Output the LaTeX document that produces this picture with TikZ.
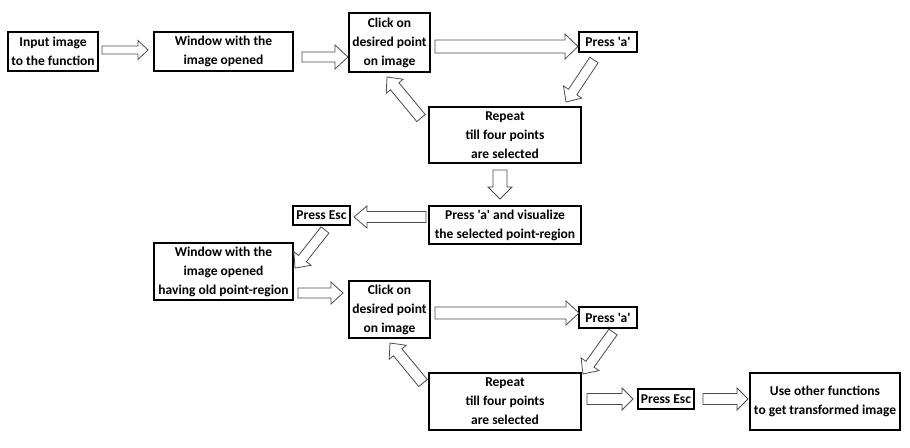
\documentclass[tikz,border=0pt]{standalone}
\usepackage{fontspec}
\newfontfamily\calfont{Carlito}
\usetikzlibrary{calc}
\tikzset{
  box/.style={draw, line width=1.8pt, inner sep=0pt, align=center,
    font=\calfont\fontsize{13.5}{19}\selectfont\bfseries},
  blockarr/.style={draw=black!70, fill=white, line width=0.8pt, line join=miter},
}
% block arrow: from, to, shaft half width, head half width, head length
\newcommand{\barrow}[5]{%
  \draw[blockarr] let \p1=(#1), \p2=(#2), \n1={atan2(\y2-\y1,\x2-\x1)},
    \n2={veclen(\x2-\x1,\y2-\y1)} in
    [shift={(\p1)}, rotate=\n1]
    (0pt,-#3pt) -- (\n2-#5pt,-#3pt) -- (\n2-#5pt,-#4pt) -- (\n2,0pt)
    -- (\n2-#5pt,#4pt) -- (\n2-#5pt,#3pt) -- (0pt,#3pt) -- cycle;}
\begin{document}
\begin{tikzpicture}[x=1pt,y=-1pt]
\useasboundingbox (0,0) rectangle (910,447);
% boxes
\node[box, minimum width=90, minimum height=39] (in) at (53,51.5) {Input image\\to the function};
\node[box, minimum width=139, minimum height=39] (win1) at (223.5,51.5) {Window with the\\image opened};
\node[box, minimum width=81, minimum height=59] (click1) at (389.5,42.5) {Click on\\desired point\\on image};
\node[box, minimum width=58, minimum height=20] (pa1) at (608,42) {Press 'a'};
\node[box, minimum width=152, minimum height=56] (rep1) at (505,135) {Repeat\\till four points\\are selected};
\node[box, minimum width=152, minimum height=38] (pav) at (505,225) {Press 'a' and visualize\\the selected point-region};
\node[box, minimum width=57, minimum height=19] (esc1) at (321.5,215.5) {Press Esc};
\node[box, minimum width=139, minimum height=57] (win2) at (223.5,271.5) {Window with the\\image opened\\having old point-region};
\node[box, minimum width=81, minimum height=57] (click2) at (389.5,309.5) {Click on\\desired point\\on image};
\node[box, minimum width=58, minimum height=21] (pa2) at (608,317.5) {Press 'a'};
\node[box, minimum width=152, minimum height=57] (rep2) at (505,401.5) {Repeat\\till four points\\are selected};
\node[box, minimum width=56, minimum height=20] (esc2) at (666,399) {Press Esc};
\node[box, minimum width=150, minimum height=57] (use) at (825,401.5) {Use other functions\\to get transformed image};
% arrow end points
\coordinate (a1s) at (102,50);   \coordinate (a1e) at (148,50);
\coordinate (a2s) at (302,57);   \coordinate (a2e) at (348,57);
\coordinate (a3s) at (435,46.5); \coordinate (a3e) at (578,46.5);
\coordinate (a4s) at (594,60);   \coordinate (a4e) at (566,102);
\coordinate (a5s) at (421,118);  \coordinate (a5e) at (387,77);
\coordinate (a6s) at (500,170);  \coordinate (a6e) at (500,199);
\coordinate (a7s) at (426,217);  \coordinate (a7e) at (354,217);
\coordinate (a8s) at (325,230);  \coordinate (a8e) at (295,268);
\coordinate (a9s) at (298,293);  \coordinate (a9e) at (343,293);
\coordinate (a10s) at (435,313); \coordinate (a10e) at (579,313);
\coordinate (a11s) at (613,332); \coordinate (a11e) at (583,374);
\coordinate (a12s) at (423,383); \coordinate (a12e) at (390,343);
\coordinate (a13s) at (587,399); \coordinate (a13e) at (633,399);
\coordinate (a14s) at (703,399); \coordinate (a14e) at (748,399);
% block arrows
\barrow{a1s}{a1e}{4}{9.5}{10}
\barrow{a2s}{a2e}{5}{12}{13}
\barrow{a3s}{a3e}{6.5}{12.5}{13}
\barrow{a4s}{a4e}{5}{11}{12}
\barrow{a5s}{a5e}{5.5}{11}{12}
\barrow{a6s}{a6e}{7}{12}{12}
\barrow{a7s}{a7e}{5.5}{11}{13}
\barrow{a8s}{a8e}{5}{11}{12}
\barrow{a9s}{a9e}{5}{11}{12}
\barrow{a10s}{a10e}{6}{12}{13}
\barrow{a11s}{a11e}{5}{11}{12}
\barrow{a12s}{a12e}{5.5}{11}{12}
\barrow{a13s}{a13e}{5.5}{11}{11}
\barrow{a14s}{a14e}{5.5}{11}{11}
\end{tikzpicture}
\end{document}
